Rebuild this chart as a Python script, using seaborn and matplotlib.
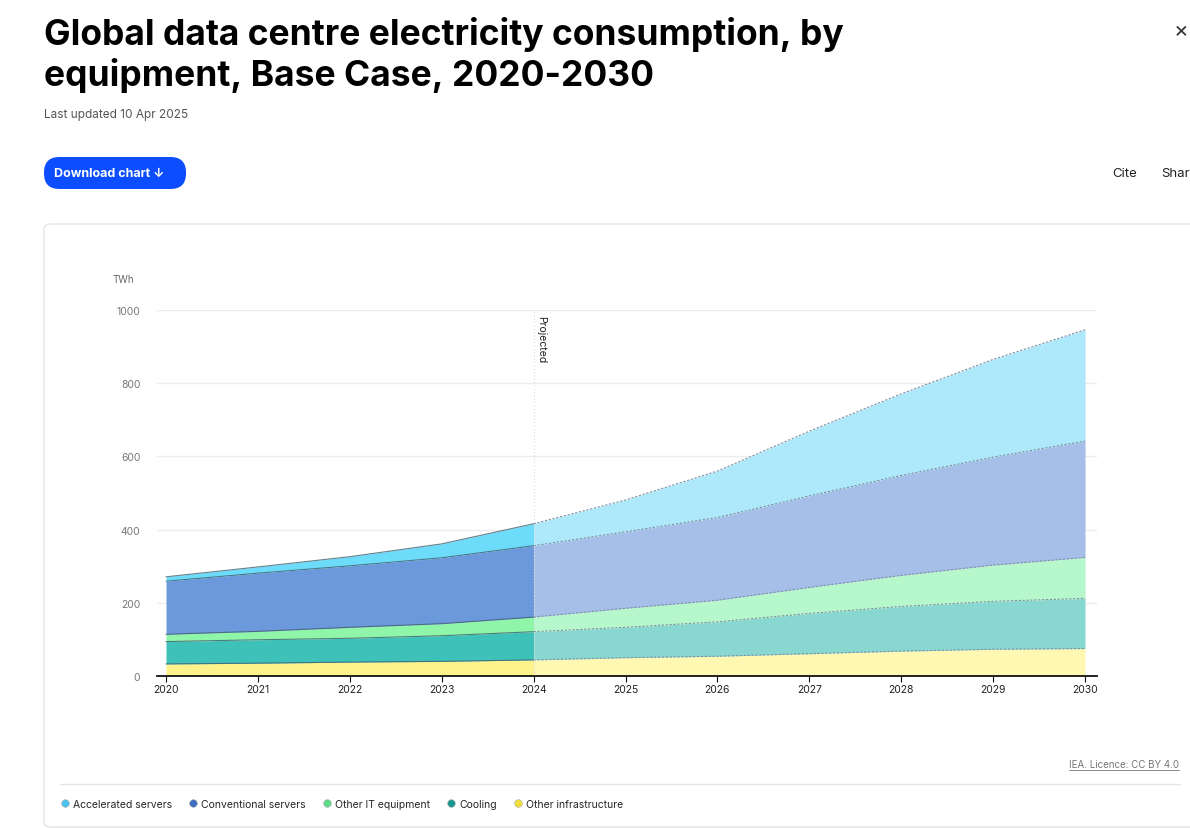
import numpy as np
import pandas as pd
import matplotlib
matplotlib.use("Agg")
import matplotlib.pyplot as plt
from matplotlib.patches import FancyBboxPatch
from matplotlib.lines import Line2D
import seaborn as sns

# data (TWh)
years = [2020, 2021, 2022, 2023, 2024, 2025, 2026, 2027, 2028, 2029, 2030]
other_infra = [33, 35, 38, 40, 44, 50, 54, 61, 68, 73, 75]
cooling = [61, 64, 65, 70, 77, 83, 94, 110, 122, 131, 137]
other_it = [20, 23, 30, 33, 40, 52, 59, 71, 85, 99, 112]
conventional = [145, 159, 168, 180, 195, 209, 226, 250, 273, 295, 318]
accelerated = [12, 17, 25, 38, 60, 87, 127, 177, 223, 267, 304]
series_names = ["Other infrastructure", "Cooling", "Other IT equipment",
                "Conventional servers", "Accelerated servers"]
legend_order = ["Accelerated servers", "Conventional servers", "Other IT equipment",
                "Cooling", "Other infrastructure"]
projected_from = 2024

hist_colors = {"Accelerated servers": "#6ddcfb", "Conventional servers": "#6c98dc",
               "Other IT equipment": "#8ef5a9", "Cooling": "#3ec1b8",
               "Other infrastructure": "#fdf38a"}
proj_colors = {"Accelerated servers": "#ade9fa", "Conventional servers": "#a6bfe8",
               "Other IT equipment": "#b6f7cb", "Cooling": "#88d8d1",
               "Other infrastructure": "#fef8b3"}
legend_colors = {"Accelerated servers": "#4cc3ee", "Conventional servers": "#3d6cc0",
                 "Other IT equipment": "#5fd98a", "Cooling": "#16998c",
                 "Other infrastructure": "#f3df3c"}

df = pd.DataFrame({"year": years, "Other infrastructure": other_infra, "Cooling": cooling,
                   "Other IT equipment": other_it, "Conventional servers": conventional,
                   "Accelerated servers": accelerated}).set_index("year")
cum = df[series_names].cumsum(axis=1)
base = cum.shift(1, axis=1).fillna(0)

sns.set_theme(style="white")
plt.rcParams["font.family"] = ["Inter", "DejaVu Sans"]

fig = plt.figure(figsize=(11.9, 8.29), dpi=100)
W, H = 1190, 829

def fx(px):
    return px / W

def fy(py):
    return 1 - py / H

# card frame
card = FancyBboxPatch((fx(44), fy(828)), fx(1200 - 44), fy(225) - fy(828),
                      boxstyle="round,pad=0,rounding_size=0.006", transform=fig.transFigure,
                      facecolor="none", edgecolor="#e4e4e4", lw=1, zorder=-1)
fig.patches.append(card)

# header
fig.text(fx(44), fy(17), "Global data centre electricity consumption, by\nequipment, Base Case, 2020-2030",
         fontsize=25.5, fontweight="bold", va="top", ha="left", color="#000000", linespacing=1.2)
fig.text(fx(44), fy(115), "Last updated 10 Apr 2025", fontsize=8.5, color="#555555", va="center")
btn = FancyBboxPatch((fx(44), fy(190)), fx(186 - 44), fy(158) - fy(190),
                     boxstyle="round,pad=0,rounding_size=0.013", transform=fig.transFigure,
                     facecolor="#0b4dff", edgecolor="none", mutation_aspect=1190 / 829)
fig.patches.append(btn)
fig.text(fx(54), fy(174), "Download chart \u2193", fontsize=9, fontweight="bold", color="white", va="center")
fig.text(fx(1112), fy(174), "Cite", fontsize=9.5, color="#222222", va="center")
fig.text(fx(1161), fy(174), "Share", fontsize=9.5, color="#222222", va="center")
fig.text(fx(1174), fy(30), "\u00d7", fontsize=16, color="#333333", va="center")

# chart axes
ax = fig.add_axes([fx(157), fy(677), fx(1097 - 157), fy(311) - fy(677)])
hist = cum.index <= projected_from
proj = cum.index >= projected_from
for name in series_names:
    ax.fill_between(cum.index[hist], base[name][hist], cum[name][hist],
                    color=hist_colors[name], lw=0, zorder=2)
    ax.fill_between(cum.index[proj], base[name][proj], cum[name][proj],
                    color=proj_colors[name], lw=0, zorder=2)
    sns.lineplot(x=cum.index[hist], y=cum[name][hist], ax=ax, color="#3f6070",
                 lw=0.8, alpha=0.8, zorder=3)
    sns.lineplot(x=cum.index[proj], y=cum[name][proj], ax=ax, color="#7d8fa0",
                 lw=0.8, zorder=3)
    ax.lines[-1].set_linestyle((0, (2, 1.5)))

ax.axvline(projected_from, color="#dddddd", lw=0.8, ls=(0, (1, 2)), zorder=4)
ax.text(projected_from + 0.03, 985, "Projected", rotation=-90, fontsize=7.5,
        va="top", ha="left", color="#222222")

ax.set_xlim(2019.902, 2030.13)
ax.set_ylim(0, 1000)
ax.set_yticks([0, 200, 400, 600, 800, 1000])
ax.set_xticks(years)
ax.set_xticklabels([str(y) for y in years])
ax.yaxis.grid(True, color="#ececec", lw=1)
ax.set_axisbelow(True)
for s in ["top", "right", "left"]:
    ax.spines[s].set_visible(False)
ax.spines["bottom"].set_color("#111111")
ax.spines["bottom"].set_linewidth(1.3)
ax.spines["bottom"].set_zorder(5)
ax.tick_params(axis="y", length=0, pad=12, labelsize=7.5, labelcolor="#777777")
ax.tick_params(axis="x", length=4, width=0.8, color="#111111", pad=2,
               labelsize=7.5, labelcolor="#222222", bottom=True)
ax.set_xlabel("")
ax.set_ylabel("")
fig.text(fx(112), fy(280), "TWh", fontsize=7, color="#666666", va="center")

# footer
fig.text(fx(1179), fy(765), "IEA. Licence: CC BY 4.0", fontsize=7, color="#777777",
         ha="right", va="center")
fig.add_artist(Line2D([fx(1069), fx(1179)], [fy(771), fy(771)], color="#777777", lw=0.6))
fig.add_artist(Line2D([fx(60), fx(1180)], [fy(785), fy(785)], color="#e4e4e4", lw=1))

handles = [Line2D([], [], marker="o", ls="", markersize=5.5, markerfacecolor=legend_colors[n],
                  markeredgecolor="#aaaaaa", markeredgewidth=0.4, label=n) for n in legend_order]
fig.legend(handles=handles, loc="center left", bbox_to_anchor=(fx(50), fy(805)), ncol=5,
           frameon=False, fontsize=7.5, handletextpad=0.3, columnspacing=1.5, handlelength=1)

fig.savefig("out.png", dpi=100)
